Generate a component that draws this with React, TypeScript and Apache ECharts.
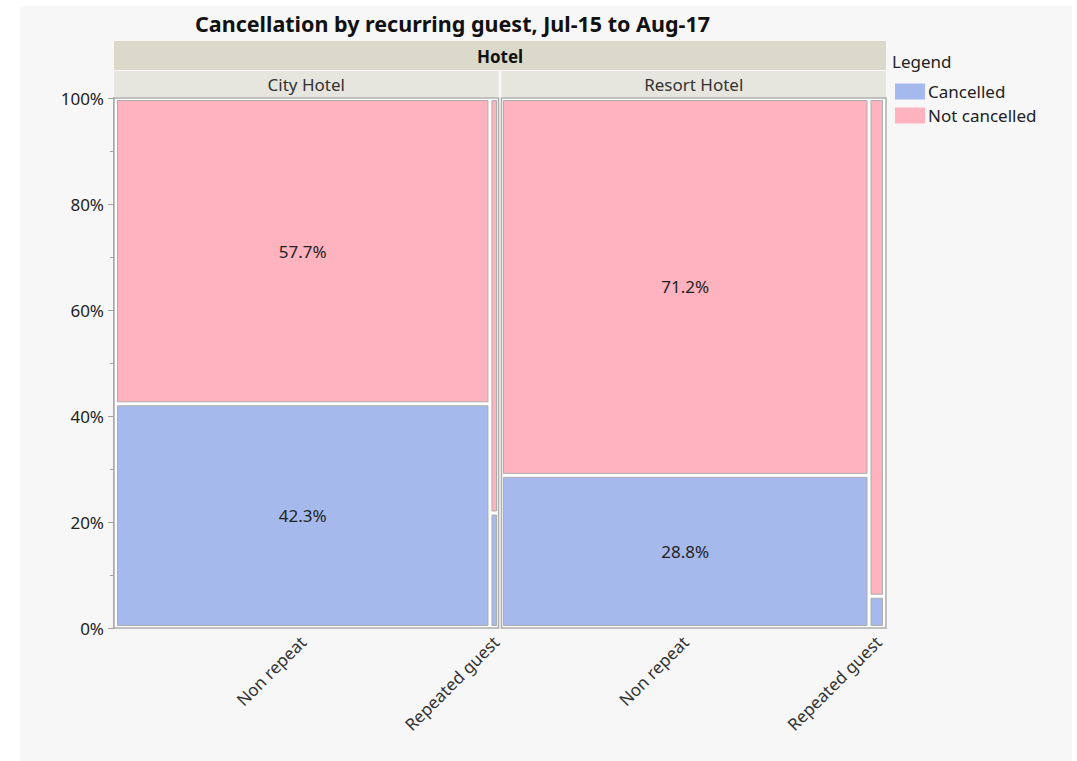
import React, { useEffect, useRef } from "react";
import * as echarts from "echarts";

// ---- data ----
const hotels = ["City Hotel", "Resort Hotel"];
const guestTypes = ["Non repeat", "Repeated guest"];
// share (%) of each hotel's bookings made by repeated guests (column widths)
const repeatedShare = [2.6, 4.4];
// cancellation percentages per hotel, per guest type [non repeat, repeated]
const cancelledPct = [
  [42.3, 21.7],
  [28.8, 6.0],
];
const notCancelledPct = [
  [57.7, 78.3],
  [71.2, 94.0],
];
const yTickValues = [0, 20, 40, 60, 80, 100];

const TITLE = "Cancellation by recurring guest, Jul-15 to Aug-17";
const FONT = "'Noto Sans', 'Open Sans', sans-serif";
const FS = 17;
const BLUE = "#a6b9ed";
const PINK = "#ffb3be";
const BORDER = "#adadad";

export default function App() {
  const ref = useRef<HTMLDivElement>(null);

  useEffect(() => {
    if (!ref.current) return;
    const chart = echarts.init(ref.current, undefined, { renderer: "svg" });

    // column edges (in x-axis units: each hotel occupies one unit)
    const colEdges = hotels.map((_, h) => {
      const split = 1 - repeatedShare[h] / 100;
      return [
        [h, h + split],
        [h + split, h + 1],
      ];
    });

    const cellData = (which: "c" | "n") => {
      const out: any[] = [];
      hotels.forEach((_, h) => {
        guestTypes.forEach((_, g) => {
          const c = cancelledPct[h][g];
          const n = notCancelledPct[h][g];
          const [x0, x1] = colEdges[h][g];
          const y0 = which === "c" ? 0 : c;
          const y1 = which === "c" ? c : c + n;
          const label = g === 0 ? (which === "c" ? c : n).toFixed(1) + "%" : "";
          out.push([x0, x1, y0, y1, label]);
        });
      });
      return out;
    };

    const cellRender = (color: string) => (params: any, api: any) => {
      const x0 = api.value(0);
      const x1 = api.value(1);
      const y0 = api.value(2);
      const y1 = api.value(3);
      const label = api.value(4);
      const p0 = api.coord([x0, y0]);
      const p1 = api.coord([x1, y1]);
      const ins = 2;
      const isPanelStart = Math.abs(x0 - Math.round(x0)) < 1e-9;
      const isPanelEnd = Math.abs(x1 - Math.round(x1)) < 1e-9;
      const left = p0[0] + ins + (isPanelStart ? 1.5 : 0);
      const right = p1[0] - ins - (isPanelEnd ? 1.5 : 0);
      const top = p1[1] + ins + (y1 >= 100 ? 0.5 : 0);
      const bottom = p0[1] - ins - (y0 <= 0 ? 0.5 : 0);
      const children: any[] = [
        {
          type: "rect",
          shape: { x: left, y: top, width: right - left, height: bottom - top },
          style: { fill: color, stroke: BORDER, lineWidth: 1 },
        },
      ];
      if (label) {
        children.push({
          type: "text",
          style: {
            text: label,
            x: (left + right) / 2,
            y: (top + bottom) / 2,
            align: "center",
            verticalAlign: "middle",
            fill: "#222",
            fontSize: FS,
            fontFamily: FONT,
          },
        });
      }
      return { type: "group", children };
    };

    // panel frames, headers and rotated category labels
    const panelData = hotels.map((name, h) => [h, h + 1, name]);
    const panelRender = (params: any, api: any) => {
      const h0 = api.value(0);
      const h1 = api.value(1);
      const name = hotels[params.dataIndex];
      const pTop = api.coord([h0, 100]);
      const pBot = api.coord([h1, 0]);
      const left = pTop[0] + (params.dataIndex === 0 ? 0 : 1.5);
      const right = pBot[0] - (params.dataIndex === hotels.length - 1 ? 0 : 1.5);
      const children: any[] = [
        {
          type: "rect",
          shape: { x: left, y: pTop[1], width: right - left, height: pBot[1] - pTop[1] },
          style: { fill: "#ffffff", stroke: BORDER, lineWidth: 1.5 },
        },
        {
          type: "rect",
          shape: { x: left, y: pTop[1] - 27, width: right - left, height: 26 },
          style: { fill: "#e7e6de" },
        },
        {
          type: "text",
          style: {
            text: name,
            x: (left + right) / 2,
            y: pTop[1] - 14,
            align: "center",
            verticalAlign: "middle",
            fill: "#333",
            fontSize: FS,
            fontFamily: FONT,
          },
        },
      ];
      guestTypes.forEach((gt, g) => {
        const [cx0, cx1] = colEdges[params.dataIndex][g];
        const a = api.coord([cx0, 0]);
        const b = api.coord([cx1, 0]);
        children.push({
          type: "text",
          x: (a[0] + b[0]) / 2 + 1,
          y: pBot[1] + 11,
          rotation: Math.PI / 4,
          style: {
            text: gt,
            x: 0,
            y: 0,
            align: "right",
            verticalAlign: "middle",
            fill: "#333",
            fontSize: FS,
            fontFamily: FONT,
          },
        });
      });
      return { type: "group", children };
    };

    const bandRender = (params: any, api: any) => {
      const a = api.coord([api.value(0), 100]);
      const b = api.coord([api.value(1), 100]);
      return {
        type: "group",
        children: [
          {
            type: "rect",
            shape: { x: a[0], y: a[1] - 57, width: b[0] - a[0], height: 29 },
            style: { fill: "#dbd9ca" },
          },
          {
            type: "text",
            style: {
              text: "Hotel",
              x: (a[0] + b[0]) / 2,
              y: a[1] - 42,
              align: "center",
              verticalAlign: "middle",
              fill: "#111",
              fontSize: FS,
              fontWeight: "bold",
              fontFamily: FONT,
            },
          },
        ],
      };
    };

    chart.setOption({
      animation: false,
      backgroundColor: "#ffffff",
      graphic: [
        {
          type: "rect",
          z: -10,
          silent: true,
          shape: { x: 20, y: 6, width: 1052, height: 760 },
          style: { fill: "#f7f7f7" },
        },
        {
          type: "text",
          left: 892,
          top: 53,
          style: { text: "Legend", fill: "#222", fontSize: FS, fontFamily: FONT },
        },
      ],
      title: {
        text: TITLE,
        left: 190,
        top: 7,
        textStyle: { fontSize: 21.5, fontWeight: "bold", color: "#111", fontFamily: FONT },
      },
      legend: {
        data: ["Cancelled", "Not cancelled"],
        orient: "vertical",
        left: 895,
        top: 83,
        padding: 0,
        itemWidth: 30,
        itemHeight: 16,
        itemGap: 7,
        icon: "rect",
        selectedMode: false,
        textStyle: { fontSize: FS, color: "#222", fontFamily: FONT, padding: [0, 0, 0, -2] },
      },
      grid: { left: 114, right: 191, top: 98, bottom: 133 },
      xAxis: { type: "value", min: 0, max: hotels.length, show: false },
      yAxis: {
        type: "value",
        min: yTickValues[0],
        max: yTickValues[yTickValues.length - 1],
        interval: 20,
        axisLine: { show: true, lineStyle: { color: "#a0a0a0", width: 2 } },
        axisTick: { show: true, length: 6, lineStyle: { color: "#a0a0a0" } },
        minorTick: { show: true, splitNumber: 2, length: 4, lineStyle: { color: "#a0a0a0" } },
        splitLine: { show: false },
        axisLabel: {
          formatter: "{value}%",
          fontSize: FS,
          color: "#222",
          fontFamily: FONT,
          margin: 10,
        },
      },
      series: [
        {
          type: "custom",
          name: "band",
          data: [[0, hotels.length]],
          renderItem: bandRender,
          silent: true,
          z: 1,
        },
        {
          type: "custom",
          name: "panels",
          data: panelData,
          renderItem: panelRender,
          silent: true,
          z: 1,
        },
        {
          type: "custom",
          name: "Cancelled",
          itemStyle: { color: BLUE },
          data: cellData("c"),
          renderItem: cellRender(BLUE),
          z: 2,
        },
        {
          type: "custom",
          name: "Not cancelled",
          itemStyle: { color: PINK },
          data: cellData("n"),
          renderItem: cellRender(PINK),
          z: 2,
        },
      ],
    });

    return () => chart.dispose();
  }, []);

  return (
    <div
      ref={ref}
      style={{ position: "fixed", left: 0, top: 0, width: 1077, height: 761 }}
    />
  );
}
